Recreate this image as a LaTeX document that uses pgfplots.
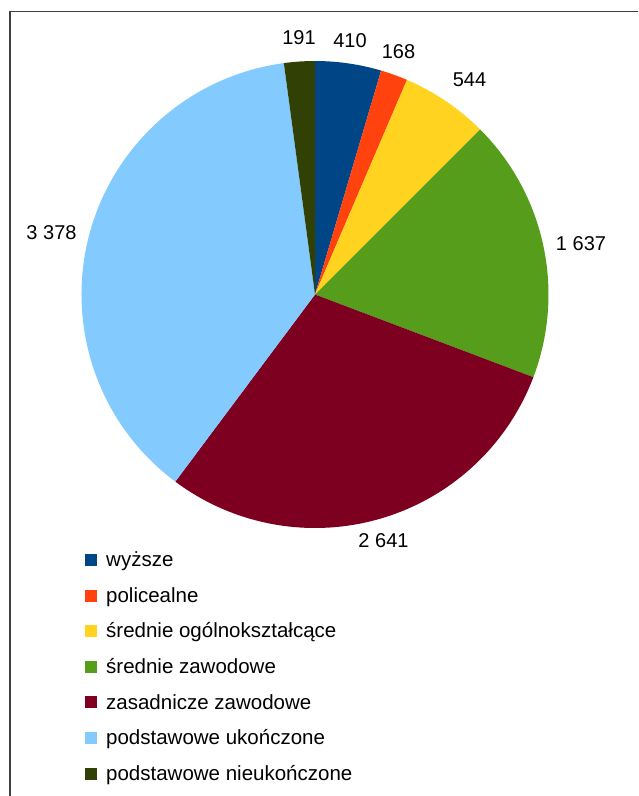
\documentclass[border=0pt]{standalone}
\usepackage{fontspec}
\setmainfont{Liberation Sans}
\usepackage{pgfplots}
\usepackage{pgfplotstable}
\pgfplotsset{compat=1.18}
\definecolor{cWy}{HTML}{004586}
\definecolor{cPo}{HTML}{FF420E}
\definecolor{cSo}{HTML}{FFD320}
\definecolor{cSz}{HTML}{579D1C}
\definecolor{cZa}{HTML}{7E0021}
\definecolor{cPu}{HTML}{83CAFF}
\definecolor{cPn}{HTML}{314004}
\pgfplotstableread{
value color
410 cWy
168 cPo
544 cSo
1637 cSz
2641 cZa
3378 cPu
191 cPn
}\pietable
\begin{document}
\begin{tikzpicture}
\path[use as bounding box] (0,0) rectangle (638pt,796pt);
\begin{axis}[
  at={(0,0)}, anchor=south west,
  width=638pt, height=796pt, scale only axis,
  xmin=0, xmax=638, ymin=0, ymax=796, y dir=reverse,
  hide axis, clip=false,
]
\def\total{0}
\pgfplotsforeachungrouped \i in {0,...,6}{%
  \pgfplotstablegetelem{\i}{value}\of\pietable
  \pgfmathsetmacro\total{\total+\pgfplotsretval}%
}
\def\cum{0}
\pgfplotsforeachungrouped \i in {0,...,6}{%
  \pgfplotstablegetelem{\i}{value}\of\pietable \let\v\pgfplotsretval
  \pgfplotstablegetelem{\i}{color}\of\pietable \let\c\pgfplotsretval
  \pgfmathsetmacro\a{90-360*(\cum/\total)}%
  \pgfmathsetmacro\cum{\cum+\v}%
  \pgfmathsetmacro\b{90-360*(\cum/\total)}%
  \edef\temp{\noexpand\fill[\c] (axis cs:315,294.5) -- ++(\a:233.5pt) arc[start angle=\a, end angle=\b, radius=233.5pt] -- cycle;}%
  \temp
}
% frame
\draw[line width=1.2pt, black!75] (axis cs:10,796) -- (axis cs:10,11.5) -- (axis cs:638,11.5);
% value labels
\begin{scope}[every node/.style={inner sep=0pt, font=\fontsize{20}{24}\selectfont}]
\node at (axis cs:299,37.5) {191};
\node at (axis cs:350,40.5) {410};
\node at (axis cs:398.5,52) {168};
\node at (axis cs:469.5,79.5) {544};
\node at (axis cs:581,243.5) {1 637};
\node at (axis cs:383.5,540.5) {2 641};
\node at (axis cs:51.5,233) {3 378};
\end{scope}
% legend
\begin{scope}[every node/.style={inner sep=0pt, anchor=base west, font=\fontsize{20.5}{24}\selectfont}]
\fill[cWy] (axis cs:85,554) rectangle (axis cs:97,566);
\node at (axis cs:106,566.7) {wyższe};
\fill[cPo] (axis cs:85,589.6) rectangle (axis cs:97,601.6);
\node at (axis cs:106,602.3) {policealne};
\fill[cSo] (axis cs:85,625.2) rectangle (axis cs:97,637.2);
\node at (axis cs:106,637.9) {średnie ogólnokształcące};
\fill[cSz] (axis cs:85,660.8) rectangle (axis cs:97,672.8);
\node at (axis cs:106,673.5) {średnie zawodowe};
\fill[cZa] (axis cs:85,696.4) rectangle (axis cs:97,708.4);
\node at (axis cs:106,709.1) {zasadnicze zawodowe};
\fill[cPu] (axis cs:85,732) rectangle (axis cs:97,744);
\node at (axis cs:106,744.7) {podstawowe ukończone};
\fill[cPn] (axis cs:85,767.6) rectangle (axis cs:97,779.6);
\node at (axis cs:106,780.3) {podstawowe nieukończone};
\end{scope}
\end{axis}
\end{tikzpicture}
\end{document}
